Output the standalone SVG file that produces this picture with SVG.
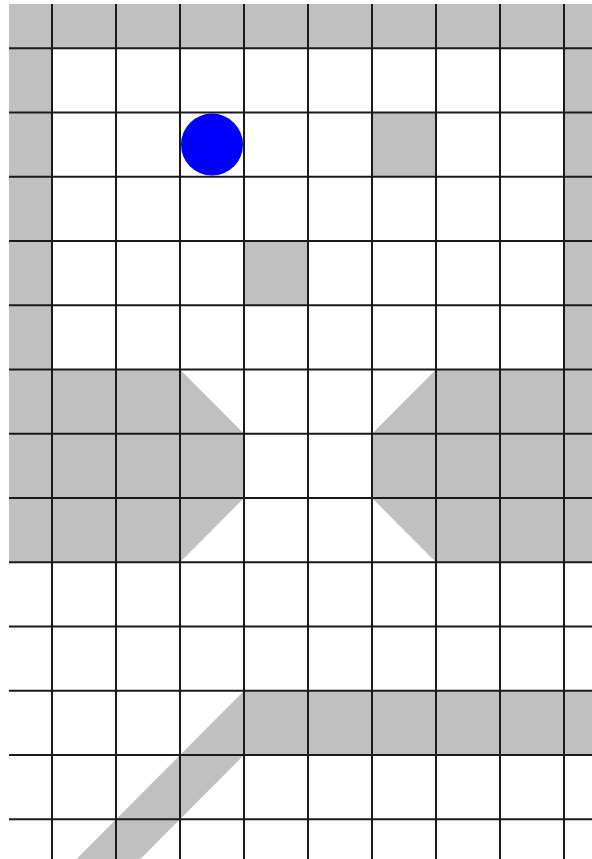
<svg xmlns="http://www.w3.org/2000/svg" width="592" height="859" viewBox="0 0 592 859">
<style>
.w{fill:#c0c0c0}
.g line{stroke:#1a1a1a;stroke-width:2}
</style>
<rect x="0" y="0" width="592" height="859" fill="#fff"/>
<g id="walls">
<rect class="w" x="9" y="4" width="583" height="44.3"/>
<rect class="w" x="9" y="48.3" width="43" height="321.2"/>
<rect class="w" x="564" y="48.3" width="28" height="321.2"/>
<rect class="w" x="372" y="112.5" width="64" height="64.3"/>
<rect class="w" x="244" y="241" width="64" height="64.3"/>
<polygon class="w" points="9,369.5 180,369.5 244,433.8 244,498 180,562.3 9,562.3"/>
<polygon class="w" points="592,369.5 436,369.5 372,433.8 372,498 436,562.3 592,562.3"/>
<polygon class="w" points="244,690.8 592,690.8 592,755 244,755 140.4,859 76.5,859"/>
</g>
<g id="agent">
<circle cx="212" cy="144.6" r="31" fill="#0000ff"/>
</g>
<g class="g" id="grid">
<line x1="52" y1="4" x2="52" y2="859"/>
<line x1="116" y1="4" x2="116" y2="859"/>
<line x1="180" y1="4" x2="180" y2="859"/>
<line x1="244" y1="4" x2="244" y2="859"/>
<line x1="308" y1="4" x2="308" y2="859"/>
<line x1="372" y1="4" x2="372" y2="859"/>
<line x1="436" y1="4" x2="436" y2="859"/>
<line x1="500" y1="4" x2="500" y2="859"/>
<line x1="564" y1="4" x2="564" y2="859"/>
<line x1="9" y1="48.3" x2="592" y2="48.3"/>
<line x1="9" y1="112.5" x2="592" y2="112.5"/>
<line x1="9" y1="176.8" x2="592" y2="176.8"/>
<line x1="9" y1="241" x2="592" y2="241"/>
<line x1="9" y1="305.3" x2="592" y2="305.3"/>
<line x1="9" y1="369.5" x2="592" y2="369.5"/>
<line x1="9" y1="433.8" x2="592" y2="433.8"/>
<line x1="9" y1="498" x2="592" y2="498"/>
<line x1="9" y1="562.3" x2="592" y2="562.3"/>
<line x1="9" y1="626.5" x2="592" y2="626.5"/>
<line x1="9" y1="690.8" x2="592" y2="690.8"/>
<line x1="9" y1="755" x2="592" y2="755"/>
<line x1="9" y1="819.3" x2="592" y2="819.3"/>
</g>
</svg>
